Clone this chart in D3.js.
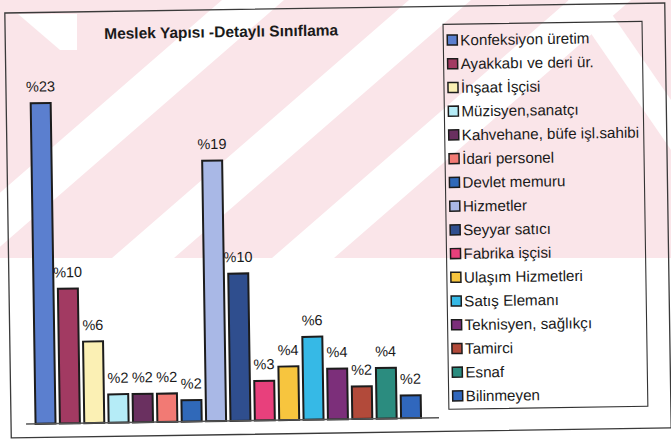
<!DOCTYPE html>
<html>
<head>
<meta charset="utf-8">
<script src="https://cdn.jsdelivr.net/npm/d3@7"></script>
<style>
  html, body { margin: 0; padding: 0; background: #ffffff; }
  svg { display: block; }
  text { font-family: "Liberation Sans", Arial, sans-serif; fill: #1a1a1a; }
</style>
</head>
<body>
<script>
// ---- Data ----
const categories = [
  "Konfeksiyon üretim", "Ayakkabı ve deri ür.", "İnşaat İşçisi", "Müzisyen,sanatçı",
  "Kahvehane, büfe işl.sahibi", "İdari personel", "Devlet memuru", "Hizmetler",
  "Seyyar satıcı", "Fabrika işçisi", "Ulaşım Hizmetleri", "Satış Elemanı",
  "Teknisyen, sağlıkçı", "Tamirci", "Esnaf", "Bilinmeyen"
];
const values = [23.0, 9.7, 5.9, 2.1, 2.1, 2.1, 1.6, 18.7, 10.6, 2.9, 3.9, 6.0, 3.7, 2.4, 3.7, 1.7];
const valueLabels = ["%23", "%10", "%6", "%2", "%2", "%2", "%2", "%19", "%10", "%3", "%4", "%6", "%4", "%2", "%4", "%2"];
const colors = [
  "#5b7fcf", "#a23a62", "#fbf0b4", "#b5ecf7", "#6a3060", "#f27a74", "#3069b9", "#a9b8e6",
  "#2f4e8e", "#e8407c", "#f7c53e", "#36b9e6", "#7c2f7a", "#b24a3a", "#2b8c7f", "#3067bd"
];
const title = "Meslek Yapısı -Detaylı Sınıflama";

// ---- Setup ----
const W = 671, H = 441;
const svg = d3.select("body").append("svg").attr("width", W).attr("height", H);

// faint scan watermark (pink area with white diagonal bands)
const wm = svg.append("g");
wm.append("rect").attr("x", 0).attr("y", 0).attr("width", W).attr("height", 258).attr("fill", "#fae5e9");
const bandStarts = [-75, 112, 272];
bandStarts.forEach(b => {
  wm.append("polygon")
    .attr("points", `${b},258 ${b + 62},258 ${b + 62 + 297},0 ${b + 297},0`)
    .attr("fill", "#ffffff");
});
wm.append("polygon").attr("points", "18,14 77,14 77,50 60,50").attr("fill", "#ffffff");
wm.append("polygon").attr("points", "568,0 602,0 671,100 671,150").attr("fill", "#ffffff");

// whole chart slightly rotated as in the scan
const g = svg.append("g").attr("transform", "rotate(-0.87, 336, 220)");

// outer frame
g.append("rect").attr("x", 8).attr("y", 8).attr("width", 660).attr("height", 425)
  .attr("fill", "none").attr("stroke", "#3a3a3a").attr("stroke-width", 1.3);

// scales
const x = d3.scaleBand().domain(categories).range([30.3, 420.2]).paddingInner(0.18).paddingOuter(0.09);
const y = d3.scaleLinear().domain([0, 25]).range([419.3, 69.6]);

// title
g.append("text").attr("x", 107).attr("y", 35.5)
  .attr("font-size", 15.5).attr("font-weight", "bold")
  .text(title);

// bars
g.selectAll("rect.bar").data(values).join("rect")
  .attr("class", "bar")
  .attr("x", (d, i) => x(categories[i]))
  .attr("y", d => y(d) + 1)
  .attr("width", x.bandwidth())
  .attr("height", d => y(0) - y(d) - 1)
  .attr("fill", (d, i) => colors[i])
  .attr("stroke", "#1c1c1c").attr("stroke-width", 2);

// baseline
g.append("line").attr("x1", 23).attr("x2", 436).attr("y1", y(0)).attr("y2", y(0))
  .attr("stroke", "#555").attr("stroke-width", 1.5);

// value labels
g.selectAll("text.vl").data(values).join("text")
  .attr("class", "vl")
  .attr("x", (d, i) => x(categories[i]) + x.bandwidth() / 2)
  .attr("y", d => y(d) - 10.5)
  .attr("text-anchor", "middle")
  .attr("font-size", 14.5)
  .text((d, i) => valueLabels[i]);

// legend
const legX = 446, legY = 26, legW = 199, legH = 385;
g.append("rect").attr("x", legX).attr("y", legY).attr("width", legW).attr("height", legH)
  .attr("fill", "none").attr("stroke", "#333").attr("stroke-width", 1.1);
const legStep = 23.73, legFirst = 41.8;
const li = g.selectAll("g.li").data(categories).join("g").attr("class", "li")
  .attr("transform", (d, i) => `translate(0, ${legFirst + i * legStep})`);
li.append("rect").attr("x", 450).attr("y", -5).attr("width", 10).attr("height", 10)
  .attr("fill", (d, i) => colors[i]).attr("stroke", "#1c1c1c").attr("stroke-width", 1.5);
li.append("text").attr("x", 463).attr("y", 0).attr("dy", "0.36em")
  .attr("font-size", 15.2).text(d => d);
</script>
</body>
</html>
